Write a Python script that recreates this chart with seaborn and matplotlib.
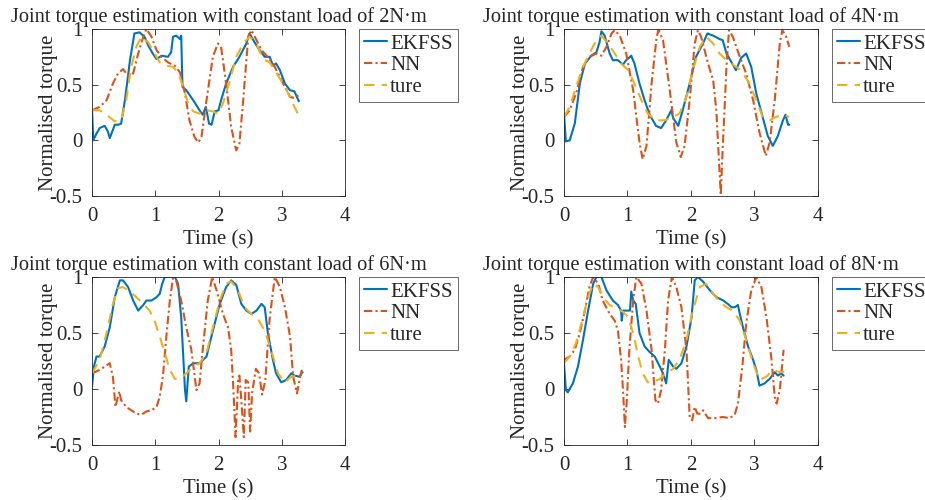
import pandas as pd
import matplotlib
matplotlib.use("Agg")
import matplotlib.pyplot as plt
import seaborn as sns

# ---- 2 N.m ----
t_2_ekf = [0, 0.02, 0.07, 0.12, 0.2, 0.25, 0.28, 0.36, 0.41, 0.46, 0.52, 0.6, 0.67, 0.75, 0.83, 0.89, 0.96, 1.02, 1.1, 1.2, 1.25, 1.28, 1.33, 1.39, 1.41, 1.43, 1.49, 1.6, 1.7, 1.75, 1.8, 1.85, 1.89, 1.94, 2.0, 2.04, 2.12, 2.23, 2.33, 2.44, 2.49, 2.57, 2.65, 2.73, 2.81, 2.86, 2.91, 2.97, 3.05, 3.13, 3.2, 3.27]
v_2_ekf = [0.27, 0.0, 0.06, 0.11, 0.13, 0.08, 0.02, 0.14, 0.14, 0.15, 0.36, 0.72, 0.96, 0.97, 0.93, 0.85, 0.78, 0.73, 0.76, 0.75, 0.79, 0.93, 0.94, 0.91, 0.94, 0.48, 0.45, 0.36, 0.27, 0.23, 0.30, 0.15, 0.14, 0.26, 0.27, 0.36, 0.51, 0.66, 0.75, 0.87, 0.96, 0.88, 0.81, 0.75, 0.75, 0.67, 0.69, 0.63, 0.51, 0.45, 0.44, 0.35]
t_2_nn = [0, 0.12, 0.23, 0.33, 0.41, 0.49, 0.57, 0.65, 0.73, 0.81, 0.86, 0.94, 1.02, 1.1, 1.2, 1.31, 1.39, 1.47, 1.54, 1.62, 1.68, 1.73, 1.81, 1.91, 1.99, 2.04, 2.12, 2.2, 2.28, 2.33, 2.39, 2.47, 2.52, 2.6, 2.68, 2.76, 2.86, 2.97, 3.05, 3.13, 3.2, 3.28]
v_2_nn = [0.27, 0.30, 0.36, 0.51, 0.60, 0.64, 0.58, 0.60, 0.78, 0.93, 1.0, 0.93, 0.81, 0.75, 0.70, 0.67, 0.61, 0.42, 0.18, 0.03, -0.02, 0.03, 0.36, 0.75, 0.87, 0.84, 0.51, 0.12, -0.09, -0.03, 0.36, 0.93, 0.99, 0.90, 0.81, 0.76, 0.69, 0.57, 0.48, 0.39, 0.38, 0.41]
t_2_true = [0, 0.12, 0.23, 0.36, 0.46, 0.54, 0.62, 0.70, 0.78, 0.89, 0.99, 1.07, 1.18, 1.28, 1.36, 1.44, 1.52, 1.6, 1.7, 1.81, 1.91, 1.99, 2.07, 2.18, 2.28, 2.39, 2.49, 2.6, 2.7, 2.81, 2.91, 3.02, 3.13, 3.2, 3.28]
v_2_true = [0.27, 0.27, 0.23, 0.17, 0.18, 0.36, 0.66, 0.84, 0.93, 0.88, 0.78, 0.70, 0.67, 0.66, 0.61, 0.48, 0.33, 0.26, 0.24, 0.27, 0.26, 0.24, 0.33, 0.54, 0.75, 0.87, 0.93, 0.87, 0.73, 0.70, 0.61, 0.51, 0.39, 0.30, 0.21]

# ---- 4 N.m ----
t_4_ekf = [0, 0.03, 0.09, 0.17, 0.25, 0.33, 0.43, 0.51, 0.56, 0.59, 0.64, 0.72, 0.77, 0.85, 0.93, 0.98, 1.06, 1.11, 1.19, 1.27, 1.35, 1.45, 1.53, 1.61, 1.69, 1.72, 1.8, 1.87, 1.98, 2.08, 2.19, 2.26, 2.35, 2.45, 2.5, 2.56, 2.66, 2.71, 2.79, 2.87, 2.95, 3.03, 3.13, 3.21, 3.29, 3.37, 3.45, 3.49, 3.53, 3.55]
v_4_ekf = [0.24, -0.01, 0.0, 0.15, 0.51, 0.69, 0.76, 0.79, 0.88, 0.98, 0.94, 0.78, 0.72, 0.72, 0.68, 0.72, 0.76, 0.69, 0.51, 0.36, 0.23, 0.13, 0.11, 0.18, 0.27, 0.20, 0.13, 0.27, 0.51, 0.75, 0.87, 0.96, 0.94, 0.91, 0.90, 0.78, 0.68, 0.63, 0.74, 0.78, 0.66, 0.42, 0.21, 0.04, -0.05, 0.04, 0.18, 0.23, 0.14, 0.14]
t_4_nn = [0, 0.09, 0.19, 0.3, 0.4, 0.51, 0.59, 0.67, 0.75, 0.8, 0.88, 0.98, 1.09, 1.19, 1.24, 1.3, 1.38, 1.46, 1.49, 1.56, 1.66, 1.77, 1.84, 1.9, 1.98, 2.06, 2.11, 2.16, 2.27, 2.35, 2.4, 2.47, 2.5, 2.56, 2.6, 2.66, 2.77, 2.87, 2.98, 3.08, 3.18, 3.24, 3.32, 3.4, 3.44, 3.5, 3.55]
v_4_nn = [0.21, 0.27, 0.42, 0.66, 0.75, 0.78, 0.76, 0.84, 0.96, 0.99, 0.94, 0.78, 0.45, -0.02, -0.17, -0.05, 0.51, 0.93, 0.99, 0.90, 0.48, -0.02, -0.15, -0.05, 0.36, 0.87, 0.99, 0.93, 0.69, 0.54, 0.27, -0.49, -0.08, 0.66, 0.99, 0.93, 0.75, 0.60, 0.36, 0.07, -0.14, -0.02, 0.36, 0.87, 0.99, 0.93, 0.84]
t_4_true = [0, 0.09, 0.19, 0.3, 0.4, 0.51, 0.59, 0.69, 0.8, 0.9, 1.01, 1.11, 1.22, 1.32, 1.45, 1.59, 1.72, 1.82, 1.93, 2.03, 2.14, 2.24, 2.35, 2.45, 2.56, 2.66, 2.79, 2.92, 3.03, 3.13, 3.24, 3.34, 3.45, 3.55]
v_4_true = [0.21, 0.30, 0.48, 0.66, 0.78, 0.90, 0.94, 0.87, 0.78, 0.69, 0.63, 0.51, 0.36, 0.24, 0.18, 0.18, 0.21, 0.24, 0.39, 0.63, 0.84, 0.93, 0.87, 0.78, 0.72, 0.68, 0.63, 0.51, 0.36, 0.21, 0.18, 0.21, 0.23, 0.21]

# ---- 6 N.m ----
t_6_ekf = [0, 0.03, 0.07, 0.12, 0.2, 0.28, 0.36, 0.44, 0.49, 0.57, 0.65, 0.73, 0.81, 0.86, 0.94, 1.02, 1.07, 1.11, 1.15, 1.31, 1.36, 1.41, 1.47, 1.49, 1.53, 1.6, 1.7, 1.81, 1.91, 2.02, 2.12, 2.2, 2.28, 2.36, 2.44, 2.52, 2.6, 2.68, 2.73, 2.78, 2.86, 2.91, 2.99, 3.07, 3.15, 3.2, 3.28, 3.33]
v_6_ekf = [0.02, 0.20, 0.29, 0.29, 0.38, 0.55, 0.82, 0.97, 0.97, 0.91, 0.79, 0.70, 0.75, 0.79, 0.79, 0.82, 0.85, 0.94, 1.0, 1.0, 0.94, 0.64, -0.01, -0.11, 0.20, 0.23, 0.23, 0.29, 0.52, 0.76, 0.91, 0.97, 0.93, 0.76, 0.70, 0.67, 0.70, 0.76, 0.73, 0.50, 0.26, 0.14, 0.06, 0.08, 0.14, 0.12, 0.11, 0.15]
t_6_nn = [0, 0.12, 0.2, 0.28, 0.33, 0.37, 0.43, 0.46, 0.54, 0.62, 0.7, 0.78, 0.86, 0.94, 1.02, 1.07, 1.12, 1.18, 1.23, 1.28, 1.33, 1.41, 1.49, 1.57, 1.65, 1.7, 1.75, 1.83, 1.9, 1.97, 2.07, 2.15, 2.2, 2.23, 2.27, 2.31, 2.33, 2.36, 2.4, 2.43, 2.47, 2.5, 2.53, 2.59, 2.64, 2.69, 2.74, 2.81, 2.89, 2.97, 3.05, 3.13, 3.18, 3.24, 3.29, 3.33]
v_6_nn = [0.14, 0.17, 0.20, 0.23, 0.11, -0.16, -0.02, -0.10, -0.16, -0.19, -0.22, -0.23, -0.20, -0.19, -0.16, -0.07, 0.11, 0.50, 0.79, 0.99, 0.97, 0.79, 0.55, 0.35, -0.01, 0.05, 0.35, 0.79, 1.0, 0.88, 0.67, 0.55, 0.35, 0.05, -0.43, 0.08, 0.12, -0.10, -0.43, 0.08, 0.06, -0.38, -0.04, 0.18, 0.14, -0.05, 0.08, 0.64, 1.0, 0.91, 0.73, 0.47, 0.11, -0.04, 0.11, 0.20]
t_6_true = [0, 0.12, 0.23, 0.33, 0.41, 0.49, 0.6, 0.7, 0.81, 0.91, 0.99, 1.07, 1.15, 1.23, 1.31, 1.39, 1.49, 1.6, 1.7, 1.81, 1.91, 2.02, 2.12, 2.2, 2.31, 2.41, 2.52, 2.62, 2.73, 2.83, 2.94, 3.05, 3.15, 3.26, 3.33]
v_6_true = [0.14, 0.26, 0.50, 0.76, 0.90, 0.91, 0.87, 0.82, 0.76, 0.70, 0.61, 0.47, 0.32, 0.17, 0.09, 0.09, 0.14, 0.20, 0.23, 0.32, 0.55, 0.79, 0.94, 0.96, 0.88, 0.73, 0.67, 0.63, 0.52, 0.35, 0.14, 0.06, 0.11, 0.12, 0.14]

# ---- 8 N.m ----
t_8_ekf = [0, 0.03, 0.06, 0.14, 0.22, 0.3, 0.38, 0.46, 0.51, 0.59, 0.67, 0.77, 0.85, 0.9, 0.91, 0.93, 1.01, 1.04, 1.06, 1.09, 1.13, 1.19, 1.27, 1.35, 1.43, 1.51, 1.56, 1.61, 1.65, 1.72, 1.77, 1.85, 1.93, 2.01, 2.06, 2.11, 2.19, 2.3, 2.4, 2.51, 2.58, 2.64, 2.69, 2.74, 2.77, 2.82, 2.9, 2.98, 3.03, 3.08, 3.16, 3.24, 3.32, 3.37, 3.42, 3.46]
v_8_ekf = [0.23, -0.01, -0.03, 0.05, 0.20, 0.44, 0.70, 0.94, 1.0, 1.0, 0.88, 0.79, 0.75, 0.70, 0.61, 0.70, 0.70, 0.70, 0.87, 0.79, 0.76, 0.50, 0.38, 0.33, 0.29, 0.20, 0.14, 0.05, 0.26, 0.20, 0.18, 0.23, 0.38, 0.64, 0.97, 1.0, 0.96, 0.88, 0.82, 0.79, 0.76, 0.73, 0.73, 0.75, 0.67, 0.55, 0.38, 0.26, 0.17, 0.03, 0.05, 0.09, 0.15, 0.12, 0.14, 0.12]
t_8_nn = [0, 0.09, 0.17, 0.25, 0.33, 0.4, 0.46, 0.54, 0.61, 0.72, 0.8, 0.85, 0.9, 0.93, 0.96, 0.99, 1.03, 1.09, 1.14, 1.22, 1.3, 1.38, 1.44, 1.48, 1.53, 1.59, 1.64, 1.7, 1.77, 1.85, 1.93, 1.98, 2.02, 2.06, 2.1, 2.14, 2.19, 2.27, 2.4, 2.5, 2.61, 2.69, 2.74, 2.81, 2.87, 2.95, 3.03, 3.11, 3.19, 3.27, 3.32, 3.35, 3.4, 3.46]
v_8_nn = [0.26, 0.29, 0.35, 0.50, 0.70, 0.91, 1.0, 0.94, 0.79, 0.67, 0.61, 0.52, 0.26, -0.01, -0.34, -0.10, 0.35, 0.79, 1.0, 0.94, 0.70, 0.35, -0.10, -0.13, -0.01, 0.35, 0.79, 1.0, 0.91, 0.73, 0.35, -0.25, -0.28, -0.16, -0.22, -0.22, -0.19, -0.26, -0.26, -0.25, -0.26, -0.23, -0.13, 0.20, 0.58, 0.88, 1.0, 0.91, 0.64, 0.26, -0.07, -0.13, -0.01, 0.35]
t_8_true = [0, 0.09, 0.19, 0.3, 0.38, 0.46, 0.54, 0.61, 0.72, 0.82, 0.93, 1.01, 1.09, 1.17, 1.24, 1.32, 1.4, 1.51, 1.61, 1.72, 1.82, 1.93, 2.03, 2.14, 2.24, 2.35, 2.45, 2.56, 2.66, 2.77, 2.87, 2.98, 3.08, 3.19, 3.29, 3.4, 3.47]
v_8_true = [0.23, 0.29, 0.41, 0.64, 0.82, 0.94, 0.91, 0.82, 0.75, 0.72, 0.69, 0.64, 0.50, 0.29, 0.14, 0.06, 0.06, 0.09, 0.14, 0.18, 0.26, 0.44, 0.70, 0.91, 0.94, 0.85, 0.78, 0.73, 0.70, 0.61, 0.44, 0.23, 0.08, 0.11, 0.17, 0.15, 0.15]

loads = ["2", "4", "6", "8"]
panels = [
    (t_2_ekf, v_2_ekf, t_2_nn, v_2_nn, t_2_true, v_2_true),
    (t_4_ekf, v_4_ekf, t_4_nn, v_4_nn, t_4_true, v_4_true),
    (t_6_ekf, v_6_ekf, t_6_nn, v_6_nn, t_6_true, v_6_true),
    (t_8_ekf, v_8_ekf, t_8_nn, v_8_nn, t_8_true, v_8_true),
]

sns.set_style("ticks")
plt.rcParams["font.family"] = ["Liberation Serif", "DejaVu Serif"]
plt.rcParams["font.size"] = 15

fig = plt.figure(figsize=(9.25, 5), dpi=100)
rects = [
    [0.0995, 0.608, 0.2735, 0.334],
    [0.6097, 0.608, 0.2745, 0.334],
    [0.0995, 0.110, 0.2735, 0.336],
    [0.6097, 0.110, 0.2745, 0.336],
]

blue, red, yellow = "#0072BD", "#D95319", "#EDB120"

for rect, load, (te, ve, tn, vn, tt, vt) in zip(rects, loads, panels):
    ax = fig.add_axes(rect)
    sns.lineplot(x=te, y=ve, ax=ax, color=blue, lw=1.5, linestyle="-", label="EKFSS", sort=False, estimator=None)
    sns.lineplot(x=tn, y=vn, ax=ax, color=red, lw=1.5, linestyle=(0, (4, 1.5, 1, 1.5)), label="NN", sort=False, estimator=None)
    sns.lineplot(x=tt, y=vt, ax=ax, color=yellow, lw=1.5, linestyle=(0, (5, 3.5)), label="ture", sort=False, estimator=None)

    ax.set_xlim(0, 4)
    ax.set_ylim(-0.5, 1)
    ax.set_xticks([0, 1, 2, 3, 4])
    ax.set_yticks([-0.5, 0, 0.5, 1])
    ax.set_yticklabels(["-0.5", "0", "0.5", "1"])
    ax.tick_params(direction="in", top=True, right=True, length=4, width=0.6,
                   colors="#262626", labelsize=15)
    ax.tick_params(axis="x", pad=8)
    ax.tick_params(axis="y", pad=7)
    for s in ax.spines.values():
        s.set_visible(True)
        s.set_linewidth(0.6)
        s.set_color("#262626")
    ax.set_xlabel("Time (s)", fontsize=15, labelpad=3)
    ax.set_ylabel("Normalised torque", fontsize=15, labelpad=-6)
    ax.set_title("Joint torque estimation with constant load of " + load + "N\u00b7m",
                 fontsize=14.7, pad=5)
    leg = ax.legend(loc="upper left", bbox_to_anchor=(1.055, 1.0), borderaxespad=0,
                    fancybox=False, frameon=True, edgecolor="#262626", fontsize=15,
                    handlelength=1.1, handletextpad=0.15, labelspacing=0.1,
                    borderpad=0.25)
    leg.get_frame().set_linewidth(0.6)

fig.savefig("out.png", dpi=100)
